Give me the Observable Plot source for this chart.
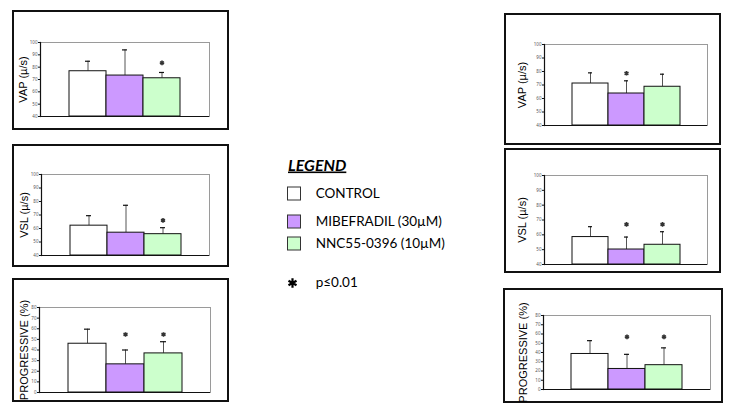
<!DOCTYPE html>
<html>
<head>
<meta charset="utf-8">
<script src="https://cdn.jsdelivr.net/npm/d3@7"></script>
<script src="https://cdn.jsdelivr.net/npm/@observablehq/plot@0.6"></script>
<style>
  html, body { margin: 0; padding: 0; background: #fff; }
  #root { position: relative; width: 731px; height: 405px; overflow: hidden; background: #fff; font-family: "Liberation Sans", Arial, sans-serif; }
  .box { position: absolute; box-sizing: border-box; border: 2px solid #111; }
  #root svg { position: absolute; overflow: visible; }
</style>
</head>
<body>
<div id="root"></div>
<script>
// ---- data ----
const categories = ["CONTROL", "MIBEFRADIL (30µM)", "NNC55-0396 (10µM)"];
const colors = ["#FFFFFF", "#CC99FF", "#CCFFCC"];
const legendTitle = "LEGEND";
const sigNote = "p≤0.01";

const panelLabels = ["VAP (µ/s)", "VSL (µ/s)", "PROGRESSIVE (%)", "VAP (µ/s)", "VSL (µ/s)", "PROGRESSIVE (%)"];
const panelDomains = [[40, 100], [40, 100], [0, 80], [40, 100], [40, 100], [0, 80]];
const velTicks = [40, 50, 60, 70, 80, 90, 100];
const progTicks = [0, 10, 20, 30, 40, 50, 60, 70, 80];

const vapLeftMean = [76.7, 73.2, 71.0];
const vapLeftErr  = [8.1, 20.8, 4.7];
const vapLeftSig  = [null, null, 83.5];

const vslLeftMean = [62.1, 56.9, 55.8];
const vslLeftErr  = [7.4, 20.3, 4.8];
const vslLeftSig  = [null, null, 66];

const progLeftMean = [45.9, 26.5, 36.8];
const progLeftErr  = [13.7, 13.5, 11.0];
const progLeftSig  = [null, 54.6, 54.6];

const vapRightMean = [71.1, 63.7, 68.7];
const vapRightErr  = [7.9, 9.4, 9.3];
const vapRightSig  = [null, 78.7, null];

const vslRightMean = [58.5, 50.1, 53.3];
const vslRightErr  = [7.0, 8.4, 8.8];
const vslRightSig  = [null, 67, 67];

const progRightMean = [38.4, 22.2, 26.3];
const progRightErr  = [14.4, 15.8, 18.7];
const progRightSig  = [null, 57, 57];

const means = [vapLeftMean, vslLeftMean, progLeftMean, vapRightMean, vslRightMean, progRightMean];
const errs  = [vapLeftErr, vslLeftErr, progLeftErr, vapRightErr, vslRightErr, progRightErr];
const sigs  = [vapLeftSig, vslLeftSig, progLeftSig, vapRightSig, vslRightSig, progRightSig];
const ticksFor = [velTicks, velTicks, progTicks, velTicks, velTicks, progTicks];

// ---- layout (page pixels) ----
const layout = [
  {box: [12, 10, 229, 130],  plot: [40, 42, 209, 116],  labelX: 23.3},
  {box: [12, 144, 229, 267], plot: [41, 174, 209, 255], labelX: 23.8},
  {box: [12, 278, 229, 402], plot: [39, 307, 210, 392], labelX: 23.6},
  {box: [504, 13, 721, 145], plot: [544, 44, 707, 125], labelX: 521.7},
  {box: [504, 148, 721, 273], plot: [544, 175, 707, 264], labelX: 522},
  {box: [503, 288, 723, 403], plot: [543, 315, 710, 389], labelX: 523.3}
];

const root = document.getElementById("root");
const mL = 40, mT = 10, mR = 10, mB = 10;

layout.forEach((L, p) => {
  const box = document.createElement("div");
  box.className = "box";
  box.style.left = L.box[0] + "px";
  box.style.top = L.box[1] + "px";
  box.style.width = (L.box[2] - L.box[0]) + "px";
  box.style.height = (L.box[3] - L.box[1]) + "px";
  root.appendChild(box);

  const rows = categories.map((c, i) => ({cat: c, value: means[p][i], err: errs[p][i], sig: sigs[p][i], color: colors[i]}));
  const sigRows = rows.filter(d => d.sig != null);
  const [ymin, ymax] = panelDomains[p];
  const pw = L.plot[2] - L.plot[0], ph = L.plot[3] - L.plot[1];

  const chart = Plot.plot({
    width: pw + mL + mR,
    height: ph + mT + mB,
    marginLeft: mL, marginTop: mT, marginRight: mR, marginBottom: mB,
    style: {background: "transparent", overflow: "visible"},
    x: {domain: categories, paddingInner: 0, paddingOuter: 0.75, axis: null},
    y: {domain: [ymin, ymax], axis: null},
    color: {type: "identity"},
    marks: [
      Plot.frame({stroke: "#9a9a9a", strokeWidth: 1}),
      Plot.ruleX(rows, {x: "cat", y1: "value", y2: d => d.value + d.err, stroke: "#555", strokeWidth: 1}),
      Plot.barY(rows, {x: "cat", y1: ymin, y2: "value", fill: "color", stroke: "#111", strokeWidth: 1}),
      Plot.tickY(rows, {x: "cat", y: d => d.value + d.err, insetLeft: 16, insetRight: 16, stroke: "#111", strokeWidth: 1.2}),
      Plot.ruleY([ymin], {stroke: "#111", strokeWidth: 1.2}),
      Plot.frame({anchor: "left", stroke: "#111", strokeWidth: 1.2}),
      Plot.axisY({ticks: ticksFor[p], tickSize: 2, tickPadding: 1, fontSize: 4.5, label: null, fill: "#555", stroke: "#111"}),
      Plot.dot(sigRows, {x: "cat", y: "sig", symbol: "asterisk", r: 2.2, stroke: "#333", strokeWidth: 1.6}),
      Plot.text([panelLabels[p]], {frameAnchor: "left", textAnchor: "middle", lineAnchor: "middle", rotate: -90, dx: L.labelX - L.plot[0], fontSize: 11, fill: "#000", fontFamily: "Liberation Sans, Arial, sans-serif"})
    ]
  });
  chart.style.left = (L.plot[0] - mL) + "px";
  chart.style.top = (L.plot[1] - mT) + "px";
  root.appendChild(chart);
});

// ---- legend ----
const lg = d3.select(root).append("svg")
  .attr("width", 220).attr("height", 170)
  .style("left", "270px").style("top", "140px")
  .style("font-family", "Lato, 'Open Sans', sans-serif");

lg.append("text")
  .attr("x", 18).attr("y", 30.5)
  .attr("font-size", 16).attr("font-weight", "bold").attr("font-style", "italic")
  .attr("text-decoration", "underline")
  .attr("fill", "#000")
  .text(legendTitle);

const itemTops = [47, 75, 97];
categories.forEach((c, i) => {
  lg.append("rect")
    .attr("x", 17.5).attr("y", itemTops[i]).attr("width", 13).attr("height", 13)
    .attr("fill", colors[i]).attr("stroke", "#333").attr("stroke-width", 1);
  lg.append("text")
    .attr("x", 45.7).attr("y", itemTops[i] + 10.5)
    .attr("font-size", 13.5).attr("fill", "#000")
    .text(c);
});

lg.append("path")
  .attr("transform", "translate(22.5,143)")
  .attr("d", d3.symbol(d3.symbolAsterisk, 60)())
  .attr("stroke", "#000").attr("stroke-width", 2.2).attr("fill", "none");
lg.append("text")
  .attr("x", 45.7).attr("y", 146.7)
  .attr("font-size", 13.5).attr("fill", "#000")
  .text(sigNote);
</script>
</body>
</html>
